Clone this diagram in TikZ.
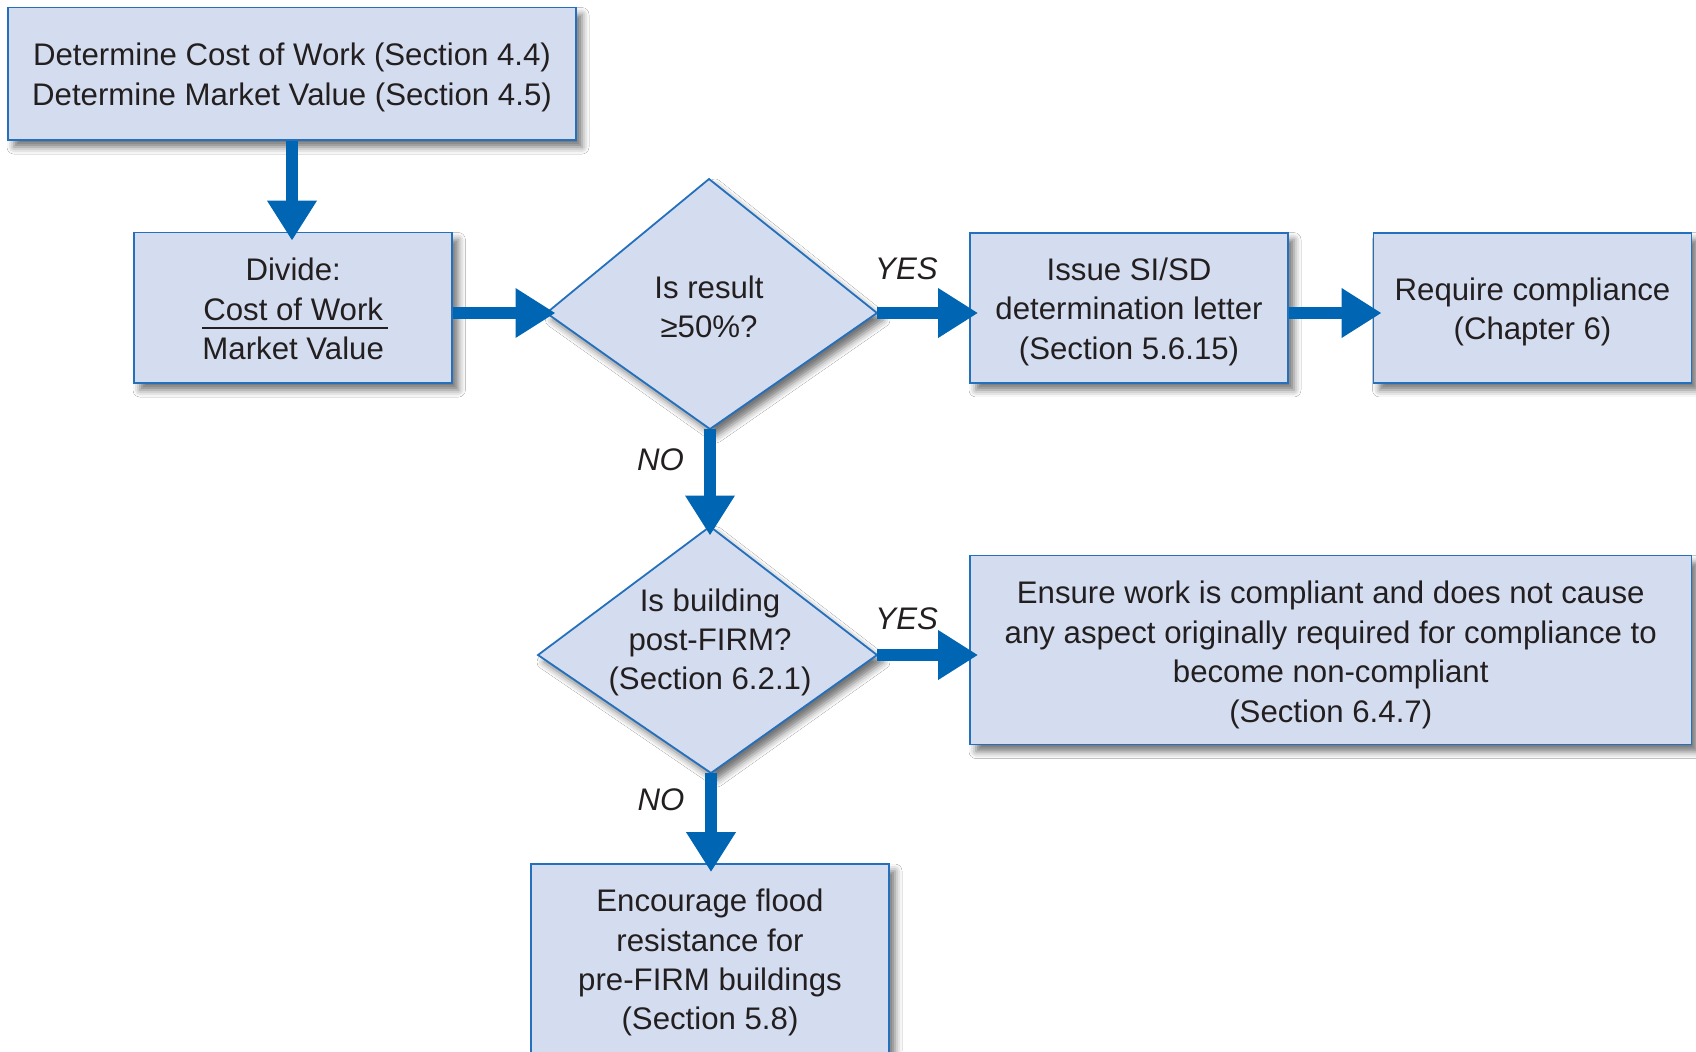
\documentclass[tikz,border=0pt]{standalone}
\usepackage{fontspec}
\setmainfont{Liberation Sans}
\usetikzlibrary{arrows.meta,shadows.blur,calc}
\definecolor{boxfill}{RGB}{212,221,239}
\definecolor{boxline}{RGB}{36,112,188}
\definecolor{arrowblue}{RGB}{0,102,179}
\definecolor{txt}{RGB}{35,31,32}
\begin{document}
\begin{tikzpicture}[x=0.5pt,y=-0.5pt,
  every node/.style={font=\fontsize{15.6pt}{19.7pt}\selectfont, text=txt, align=center, inner sep=0pt},
  softshadow/.style={blur shadow={shadow xshift=3pt,shadow yshift=-3.5pt,shadow blur radius=3.5pt,shadow opacity=55}},
  box/.style={draw=boxline, line width=0.9pt, fill=boxfill, softshadow},
  diam/.style={draw=boxline, line width=0.9pt, fill=boxfill, softshadow, line join=miter},
  flow/.style={draw=arrowblue, line width=6.25pt, -{Triangle[length=20pt,width=23.5pt]}, shorten >=-4.5pt},
  lbl/.style={font=\fontsize{15.6pt}{19.7pt}\selectfont\itshape}
]
\useasboundingbox (0,0) rectangle (1696,1051);
\clip (0,0) rectangle (1696,1051);
\fill[white] (0,0) rectangle (1696,1051);

% boxes
\node[box, minimum width=284pt, minimum height=66.25pt] (top) at (292,73.8) {};
\node (toptext) at ($(top.center)+(0,3.8)$)
  {Determine Cost of Work (Section 4.4)\\Determine Market Value (Section 4.5)};
\node[box, minimum width=159.15pt, minimum height=75.25pt] (divide) at (293.2,307.8) {};
\node (dividetext) at ($(divide.center)+(0,1.2)$) {Divide:\\Cost of Work\\Market Value};
\node[box, minimum width=159pt, minimum height=75.15pt] (issue) at (1129,307.8) {};
\node (issuetext) at ($(issue.center)+(0,3.8)$)
  {Issue SI/SD\\determination letter\\(Section 5.6.15)};
\node[box, minimum width=159pt, minimum height=75.15pt] (require) at (1532.5,307.8) {};
\node (requiretext) at ($(require.center)+(0,4.3)$) {Require compliance\\(Chapter 6)};
\node[box, minimum width=360.75pt, minimum height=94.5pt] (ensure) at (1330.75,650) {};
\node (ensuretext) at ($(ensure.center)+(0,5)$)
  {Ensure work is compliant and does not cause\\any aspect originally required for compliance to\\become non-compliant\\(Section 6.4.7)};
\node[box, minimum width=179pt, minimum height=97.5pt] (encourage) at (710,961.5) {};
\node (encouragetext) at ($(encourage.center)+(0,1.2)$)
  {Encourage flood\\resistance for\\pre-FIRM buildings\\(Section 5.8)};

% fraction bar
\draw[txt, line width=1pt] ($(divide.center)+(-91,20.5)$) -- ($(divide.center)+(95,20.5)$);

% diamonds
\coordinate (d1t) at (709,179);
\coordinate (d1r) at (877,313);
\coordinate (d1b) at (710,429);
\coordinate (d1l) at (546.5,313);
\path[diam] (d1t) -- (d1r) -- (d1b) -- (d1l) -- cycle;
\node (d1) at (709,306.7) {Is result\\≥50\%?};

\coordinate (d2t) at (710,526.5);
\coordinate (d2r) at (877,655);
\coordinate (d2b) at (711,773);
\coordinate (d2l) at (538,655);
\path[diam] (d2t) -- (d2r) -- (d2b) -- (d2l) -- cycle;
\node (d2) at (710,642.4) {Is building\\post-FIRM?\\(Section 6.2.1)};

% connectors
\draw[flow] (top.south) -- (top.south |- divide.north);
\draw[flow] (divide.east |- d1l) -- (d1l);
\draw[flow] (d1r) -- (d1r -| issue.west);
\draw[flow] (issue.east |- d1r) -- (require.west |- d1r);
\draw[flow] (d1b) -- (d2t);
\draw[flow] (d2r) -- (d2r -| ensure.west);
\draw[flow] (d2b) -- (d2b |- encourage.north);

% labels
\node[lbl] (yes1) at (906.4,269.2) {YES};
\node[lbl] (yes2) at (906.7,618.5) {YES};
\node[lbl] (no1) at (660.5,459.3) {NO};
\node[lbl] (no2) at (661,799.3) {NO};
\end{tikzpicture}
\end{document}
